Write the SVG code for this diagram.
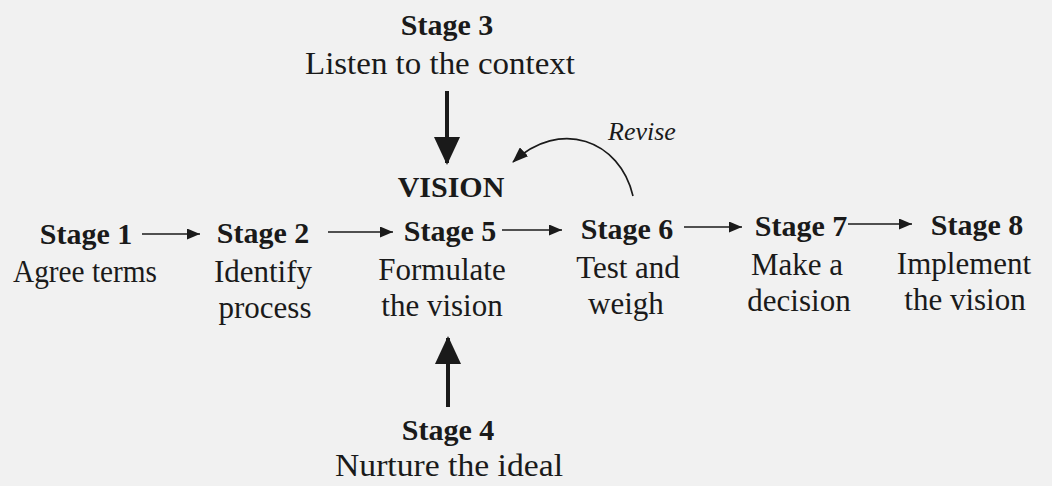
<svg xmlns="http://www.w3.org/2000/svg" width="1052" height="486" viewBox="0 0 1052 486">
<style>
.b{font-family:"Liberation Serif",serif;font-weight:bold;font-size:30px;fill:#1a1a1a;text-anchor:middle}
.r{font-family:"Liberation Serif",serif;font-size:31px;fill:#1a1a1a;text-anchor:middle}
.i{font-family:"Liberation Serif",serif;font-style:italic;font-size:26px;fill:#1a1a1a}
.h{stroke:#1a1a1a;stroke-width:1.6;fill:none}
.v{stroke:#1a1a1a;stroke-width:4;fill:none}
</style>
<defs>
<marker id="ah" viewBox="0 0 13 11" refX="13" refY="5.5" markerWidth="13" markerHeight="11" markerUnits="userSpaceOnUse" orient="auto"><path d="M0,0 L13,5.5 L0,11 z" fill="#1a1a1a"/></marker>
<marker id="big" viewBox="0 0 28 26" refX="26" refY="13" markerWidth="28" markerHeight="26" markerUnits="userSpaceOnUse" orient="auto"><path d="M0,0 L28,13 L0,26 z" fill="#1a1a1a"/></marker>
<marker id="rv" viewBox="0 0 16 12" refX="15" refY="6" markerWidth="16" markerHeight="12" markerUnits="userSpaceOnUse" orient="auto"><path d="M0,0 L16,6 L0,12 z" fill="#1a1a1a"/></marker>
</defs>
<rect width="1052" height="486" fill="#f1f1f1"/>
<g id="stage3"><text class="b" x="447" y="35">Stage 3</text><text class="r" x="440" y="74" textLength="270" lengthAdjust="spacingAndGlyphs">Listen to the context</text></g>
<g id="vision"><text class="b" x="451" y="197" font-size="29">VISION</text></g>
<g id="revise"><text class="i" x="608" y="140">Revise</text></g>
<g id="stage1"><text class="b" x="86" y="244">Stage 1</text><text class="r" x="85" y="282" textLength="144" lengthAdjust="spacingAndGlyphs">Agree terms</text></g>
<g id="stage2"><text class="b" x="263" y="243">Stage 2</text><text class="r" x="263" y="282">Identify</text><text class="r" x="265" y="318">process</text></g>
<g id="stage5"><text class="b" x="450" y="241">Stage 5</text><text class="r" x="442" y="280">Formulate</text><text class="r" x="442" y="316">the vision</text></g>
<g id="stage6"><text class="b" x="627" y="239">Stage 6</text><text class="r" x="628" y="278">Test and</text><text class="r" x="626" y="314">weigh</text></g>
<g id="stage7"><text class="b" x="801" y="236">Stage 7</text><text class="r" x="797" y="275">Make a</text><text class="r" x="799" y="311">decision</text></g>
<g id="stage8"><text class="b" x="977" y="235">Stage 8</text><text class="r" x="964" y="274">Implement</text><text class="r" x="965" y="310">the vision</text></g>
<g id="stage4"><text class="b" x="448" y="440">Stage 4</text><text class="r" x="449" y="476" textLength="228" lengthAdjust="spacingAndGlyphs">Nurture the ideal</text></g>
<g id="connectors">
<path class="h" d="M142,234 L200,234" marker-end="url(#ah)"/>
<path class="h" d="M328,232 L393,232" marker-end="url(#ah)"/>
<path class="h" d="M502,230 L562,230" marker-end="url(#ah)"/>
<path class="h" d="M684,227 L742,227" marker-end="url(#ah)"/>
<path class="h" d="M848,224 L912,224" marker-end="url(#ah)"/>
<path class="v" d="M447,91 V163" marker-end="url(#big)"/>
<path class="v" d="M448,407 V338" marker-end="url(#big)"/>
<path class="h" d="M633,196 C620,140 560,118 513,162" marker-end="url(#rv)"/>
</g>
</svg>
